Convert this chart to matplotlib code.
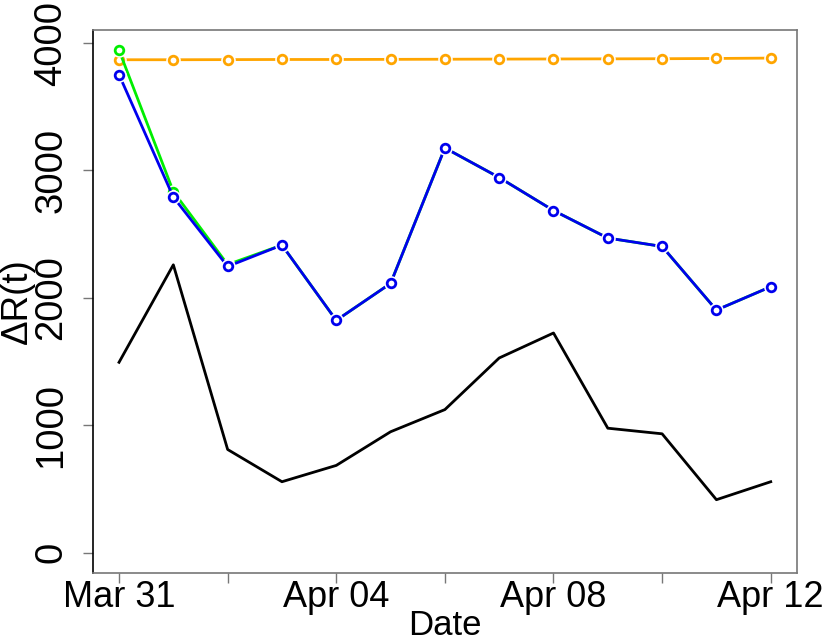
import matplotlib
matplotlib.use("Agg")
import matplotlib.pyplot as plt

plt.rcParams['font.family'] = ['Liberation Sans', 'DejaVu Sans']

dates = ["Mar 31", "Apr 01", "Apr 02", "Apr 03", "Apr 04", "Apr 05", "Apr 06",
         "Apr 07", "Apr 08", "Apr 09", "Apr 10", "Apr 11", "Apr 12"]
observed = [1495, 2260, 811, 558, 686, 950, 1124, 1529, 1725, 978, 934, 417, 558]
flat = [3869, 3869, 3870, 3871, 3871, 3872, 3873, 3874, 3875, 3876, 3877, 3879, 3882]
green = [3943, 2835, 2262, 2415, 1824, 2114, 3177, 2945, 2686, 2470, 2404, 1905, 2088]
blue = [3752, 2791, 2247, 2415, 1824, 2114, 3177, 2945, 2686, 2470, 2404, 1905, 2088]
tick_idx = [0, 2, 4, 6, 8, 10, 12]
tick_labels = ["Mar 31", "", "Apr 04", "", "Apr 08", "", "Apr 12"]
yticks = [0, 1000, 2000, 3000, 4000]

x = list(range(len(dates)))

fig = plt.figure(figsize=(8.30, 6.42), dpi=100)
ax = fig.add_axes([0.112, 0.1075, 0.848, 0.8455])

ax.plot(x, observed, color='black', lw=2.0, zorder=2)

def series(vals, color, z):
    ax.plot(x, vals, color=color, lw=2.0, zorder=z)
    ax.plot(x, vals, ls='none', marker='o', ms=10.5, mfc='white', mec='none', zorder=z + 0.1)
    ax.plot(x, vals, ls='none', marker='o', ms=6.2, mfc='white', mec=color, mew=2.0, zorder=z + 0.2)

series(flat, '#FFA500', 3)
series(green, '#00EE00', 4)
series(blue, '#0000EE', 5)

ax.set_xlim(-0.48, 12.48)
ax.set_ylim(-158, 4101)
ax.set_xticks(tick_idx)
ax.set_xticklabels(tick_labels)
ax.set_yticks(yticks)
ax.set_yticklabels([str(v) for v in yticks], rotation=90, va='center')

for s in ['top', 'right', 'bottom']:
    ax.spines[s].set_color('#777777')
ax.spines['left'].set_color('black')
for s in ax.spines.values():
    s.set_linewidth(1.2)

ax.tick_params(axis='both', direction='out', length=7, width=1.0, color='#777777')
ax.tick_params(axis='x', pad=-2, labelsize=26)
ax.tick_params(axis='y', pad=10, labelsize=27.5)

ax.set_xlabel("Date", fontsize=25, labelpad=-4)
ax.set_ylabel("ΔR(t)", fontsize=26.5, labelpad=-1)

fig.savefig("out.png", dpi=100)
